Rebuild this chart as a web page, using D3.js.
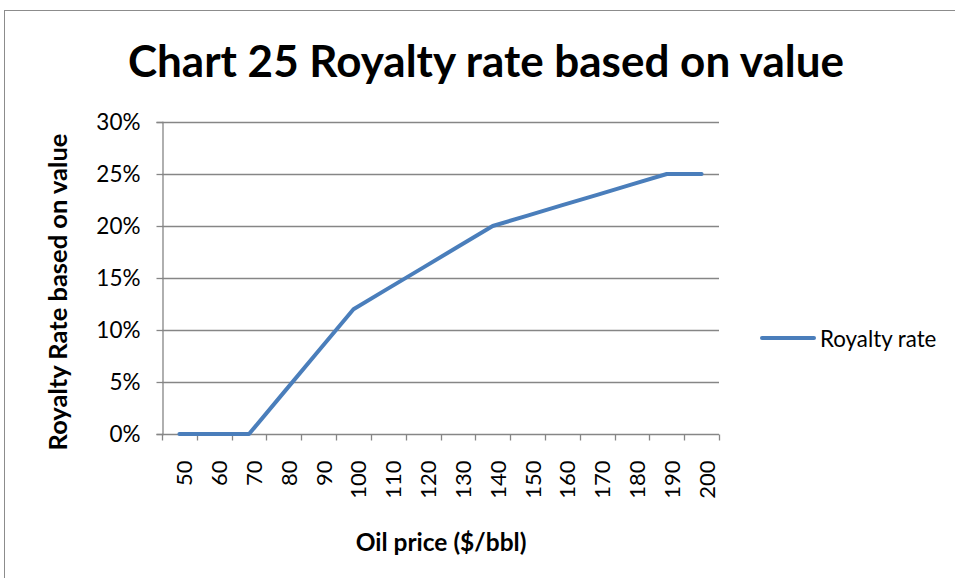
<!DOCTYPE html>
<html>
<head>
<meta charset="utf-8">
<script src="https://cdn.jsdelivr.net/npm/d3@7"></script>
<style>
  html, body { margin: 0; padding: 0; background: #fff; }
  svg { display: block; font-family: Lato, "Open Sans", sans-serif; }
</style>
</head>
<body>
<svg id="chart" width="955" height="578"></svg>
<script>
// Royalty rate by oil price
const prices = [50, 60, 70, 80, 90, 100, 110, 120, 130, 140, 150, 160, 170, 180, 190, 200];
const royaltyRate = [0, 0, 0, 0.04, 0.08, 0.12, 0.14, 0.16, 0.18, 0.20, 0.21, 0.22, 0.23, 0.24, 0.25, 0.25];
const yTicks = [0, 0.05, 0.10, 0.15, 0.20, 0.25, 0.30];
const seriesName = "Royalty rate";

const svg = d3.select("#chart");
const plot = { left: 162, right: 719, top: 122, bottom: 434 };
const lineColor = "#4a7ebb";
const gridColor = "#868686";

// chart frame
svg.append("rect")
  .attr("x", 4.5).attr("y", 10.5)
  .attr("width", 1000).attr("height", 1000)
  .attr("fill", "none").attr("stroke", "#8c8c8c").attr("stroke-width", 1);

const x = d3.scaleBand().domain(prices).range([plot.left, plot.right]);
const y = d3.scaleLinear().domain([0, 0.30]).range([plot.bottom, plot.top]);

// horizontal gridlines
svg.append("g").selectAll("line")
  .data(yTicks.filter(d => d > 0))
  .join("line")
  .attr("x1", plot.left).attr("x2", plot.right)
  .attr("y1", d => Math.round(y(d)) + 0.5).attr("y2", d => Math.round(y(d)) + 0.5)
  .attr("stroke", gridColor).attr("stroke-width", 1.3);

// y axis
const yAxis = svg.append("g")
  .attr("transform", `translate(${plot.left + 0.5},0)`)
  .call(d3.axisLeft(y).tickValues(yTicks).tickFormat(d3.format(".0%")).tickSize(6).tickPadding(16));
yAxis.select(".domain").attr("stroke", gridColor).attr("stroke-width", 1.3);
yAxis.selectAll(".tick line").attr("stroke", gridColor).attr("stroke-width", 1.3);
yAxis.selectAll(".tick text")
  .attr("font-size", 22.5).attr("fill", "#000")
  .style("font-family", "Lato, sans-serif");

// x axis with ticks at category boundaries
const xAxisG = svg.append("g").attr("transform", `translate(0,${Math.round(plot.bottom) + 0.5})`);
xAxisG.append("line")
  .attr("x1", plot.left).attr("x2", plot.right)
  .attr("stroke", gridColor).attr("stroke-width", 1.3);
const boundaries = prices.map(p => x(p)).concat([x(prices[prices.length - 1]) + x.bandwidth()]);
xAxisG.selectAll("line.tk")
  .data(boundaries)
  .join("line").attr("class", "tk")
  .attr("x1", d => Math.round(d) + 0.5).attr("x2", d => Math.round(d) + 0.5)
  .attr("y1", 0).attr("y2", 6)
  .attr("stroke", gridColor).attr("stroke-width", 1.3);
xAxisG.selectAll("text")
  .data(prices)
  .join("text")
  .attr("transform", d => `translate(${x(d) + x.bandwidth() / 2 + 13},26) rotate(-90)`)
  .attr("text-anchor", "end")
  .attr("font-size", 22)
  .attr("fill", "#000")
  .text(d => d);

// series line
const line = d3.line()
  .x((d, i) => x(prices[i]) + x.bandwidth() / 2)
  .y(d => y(d));
svg.append("path")
  .datum(royaltyRate)
  .attr("d", line)
  .attr("fill", "none")
  .attr("stroke", lineColor)
  .attr("stroke-width", 4)
  .attr("stroke-linecap", "round")
  .attr("stroke-linejoin", "round");

// title
svg.append("text")
  .attr("x", 486).attr("y", 77)
  .attr("text-anchor", "middle")
  .attr("font-size", 44).attr("font-weight", "bold")
  .text("Chart 25 Royalty rate based on value");

// axis titles
svg.append("text")
  .attr("transform", `translate(67,292) rotate(-90)`)
  .attr("text-anchor", "middle")
  .attr("font-size", 25.5).attr("font-weight", "bold")
  .text("Royalty Rate based on value");

svg.append("text")
  .attr("x", 441).attr("y", 551)
  .attr("text-anchor", "middle")
  .attr("font-size", 24.5).attr("font-weight", "bold")
  .text("Oil price ($/bbl)");

// legend
const legend = svg.append("g").attr("transform", "translate(762,338)");
legend.append("line")
  .attr("x1", 0).attr("x2", 52)
  .attr("stroke", lineColor).attr("stroke-width", 4).attr("stroke-linecap", "round");
legend.append("text")
  .attr("x", 58).attr("y", 9)
  .attr("font-size", 22.3)
  .text(seriesName);
</script>
</body>
</html>
